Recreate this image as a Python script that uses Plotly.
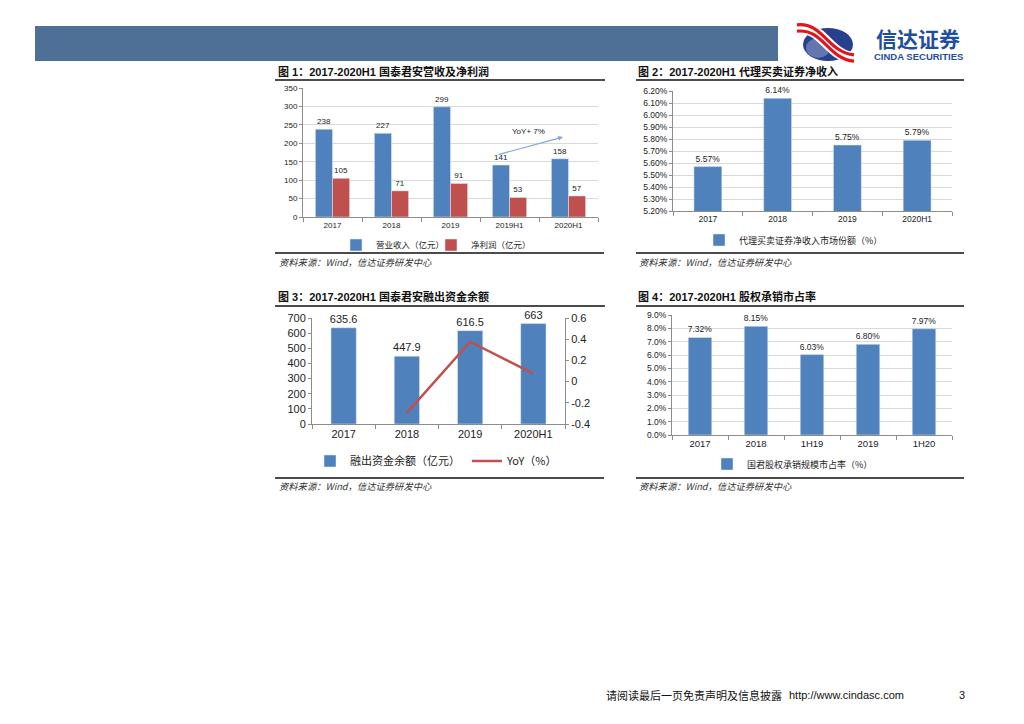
import plotly.graph_objects as go

# ---------------- data ----------------
cat1 = ["2017", "2018", "2019", "2019H1", "2020H1"]
revenue = [238, 227, 299, 141, 158]
net_profit = [105, 71, 91, 53, 57]

cat2 = ["2017", "2018", "2019", "2020H1"]
brokerage_share = [0.0557, 0.0614, 0.0575, 0.0579]

cat3 = ["2017", "2018", "2019", "2020H1"]
margin_balance = [635.6, 447.9, 616.5, 663]
margin_yoy = [None, -0.295, 0.376, 0.075]
yoy_ticks = [0.6, 0.4, 0.2, 0, -0.2, -0.4]
yoy_ticktext = ["0.6", "0.4", "0.2", "0", "-0.2", "-0.4"]

cat4 = ["2017", "2018", "1H19", "2019", "1H20"]
ecm_share = [0.0732, 0.0815, 0.0603, 0.0680, 0.0797]

# ---------------- helpers ----------------
W, H = 1024, 724
def X(px): return px / W
def Y(py): return 1 - py / H

BLUE = "#4F81BD"
RED = "#C0504D"
FONT = "Liberation Sans, Arial, Noto Sans CJK SC"
CJK = "Noto Sans CJK SC, Liberation Sans"
AX = "#8c8c8c"
GRID = "#d9d9d9"

fig = go.Figure()

# chart 1
fig.add_trace(go.Bar(x=cat1, y=revenue, name="营业收入（亿元）", marker_color=BLUE,
                     width=0.29, offset=-0.29, xaxis="x", yaxis="y",
                     text=revenue, textposition="outside", constraintext="none",
                     textfont=dict(size=8, color="#222"), cliponaxis=False, legend="legend"))
fig.add_trace(go.Bar(x=cat1, y=net_profit, name="净利润（亿元）", marker_color=RED,
                     width=0.29, offset=0, xaxis="x", yaxis="y",
                     text=net_profit, textposition="outside", constraintext="none",
                     textfont=dict(size=8, color="#222"), cliponaxis=False, legend="legend"))
# chart 2
fig.add_trace(go.Bar(x=cat2, y=brokerage_share, name="代理买卖证券净收入市场份额（%）",
                     marker_color=BLUE, width=0.4, xaxis="x2", yaxis="y2",
                     texttemplate="%{y:.2%}", textposition="outside", constraintext="none",
                     textfont=dict(size=8.5, color="#222"), cliponaxis=False, legend="legend2"))
# chart 3
fig.add_trace(go.Bar(x=cat3, y=margin_balance, name="融出资金余额（亿元）",
                     marker_color=BLUE, width=0.4, xaxis="x3", yaxis="y3",
                     text=margin_balance, textposition="outside", constraintext="none",
                     textfont=dict(size=11, color="#222"), cliponaxis=False, legend="legend3"))
fig.add_trace(go.Scatter(x=cat3, y=margin_yoy, name="YoY（%）", mode="lines",
                         line=dict(color=RED, width=2.5), xaxis="x3", yaxis="y5",
                         legend="legend3"))
# chart 4
fig.add_trace(go.Bar(x=cat4, y=ecm_share, name="国君股权承销规模市占率（%）",
                     marker_color=BLUE, width=0.42, xaxis="x4", yaxis="y4",
                     texttemplate="%{y:.2%}", textposition="outside", constraintext="none",
                     textfont=dict(size=8.5, color="#222"), cliponaxis=False, legend="legend4"))

def xax(dom, anchor, size):
    return dict(domain=dom, anchor=anchor, type="category", showline=True, linecolor=AX,
                ticks="outside", tickson="boundaries", ticklen=4, tickcolor=AX,
                tickfont=dict(size=size, color="#222", family=FONT), showgrid=False,
                zeroline=False, fixedrange=True, automargin=False)

def yax(dom, anchor, size, **kw):
    d = dict(domain=dom, anchor=anchor, showline=True, linecolor=AX, ticks="outside",
             ticklen=3, tickcolor=AX, tickfont=dict(size=size, color="#222", family=FONT),
             zeroline=False, gridcolor=GRID, gridwidth=1, automargin=False)
    d.update(kw)
    return d

def leg(x, y, size, **kw):
    d = dict(x=X(x), y=Y(y), xanchor="left", yanchor="middle", orientation="h",
             font=dict(size=size, family=CJK, color="#222"), itemwidth=30,
             bgcolor="rgba(0,0,0,0)")
    d.update(kw)
    return d

fig.update_layout(
    width=W, height=H, autosize=False, margin=dict(l=0, r=0, t=0, b=0, pad=0),
    paper_bgcolor="white", plot_bgcolor="rgba(0,0,0,0)",
    barmode="overlay", font=dict(family=FONT, size=9, color="#222"),
    xaxis=xax([X(303), X(598)], "y", 8),
    yaxis=yax([Y(217), Y(88)], "x", 8, range=[0, 350], dtick=50, showgrid=True),
    xaxis2=xax([X(673), X(952)], "y2", 8.5),
    yaxis2=yax([Y(211), Y(91)], "x2", 8.5, range=[0.052, 0.062], dtick=0.001,
               tickformat=".2%", showgrid=True),
    xaxis3=xax([X(312), X(565)], "y3", 11),
    yaxis3=yax([Y(424), Y(318)], "x3", 11, range=[0, 700], dtick=100, showgrid=False),
    yaxis5=yax([Y(424), Y(318)], "x3", 11, range=[-0.4, 0.6], tickvals=yoy_ticks,
               ticktext=yoy_ticktext, showgrid=False, overlaying="y3", side="right"),
    xaxis4=xax([X(672), X(952)], "y4", 9.5),
    yaxis4=yax([Y(435), Y(315)], "x4", 8.5, range=[0, 0.09], dtick=0.01,
               tickformat=".1%", showgrid=True),
    legend=leg(336, 245, 8.5, entrywidth=50),
    legend2=leg(699, 240, 9),
    legend3=leg(310, 461, 11, entrywidth=112),
    legend4=leg(707, 464, 9),
)

shapes = []
# header bar
shapes.append(dict(type="rect", xref="paper", yref="paper", x0=X(35), x1=X(778),
                   y0=Y(61), y1=Y(26), fillcolor="#4E6F96", line=dict(width=0), layer="below"))
# title underlines / source overlines
for (x0, x1, yy) in [(275, 605, 80), (636, 964, 80), (275, 604, 253), (636, 964, 253),
                     (275, 605, 306), (636, 964, 306), (275, 604, 478), (636, 964, 478)]:
    shapes.append(dict(type="line", xref="paper", yref="paper", x0=X(x0), x1=X(x1),
                       y0=Y(yy), y1=Y(yy), line=dict(color="#111", width=1.5)))
# logo
shapes.append(dict(type="circle", xref="paper", yref="paper", x0=X(803), x1=X(853),
                   y0=Y(61), y1=Y(28), fillcolor="#27418F", line=dict(width=0)))
shapes.append(dict(type="circle", xref="paper", yref="paper", x0=X(806), x1=X(830),
                   y0=Y(58), y1=Y(38), fillcolor="#6475B0", line=dict(width=0)))

def bez(pts):
    (a, b), (c, d), (e, f), (g, h) = pts
    return f"M {X(a)},{Y(b)} C {X(c)},{Y(d)} {X(e)},{Y(f)} {X(g)},{Y(h)}"

for dy, col, w in [(0, "white", 12), (-3.2, "#E3151B", 3.2), (3.2, "#E3151B", 3.2)]:
    shapes.append(dict(type="path", xref="paper", yref="paper",
                       path=bez([(797, 28 + dy), (823, 25 + dy), (828, 56 + dy), (854, 58 + dy)]),
                       line=dict(color=col, width=w)))
fig.update_layout(shapes=shapes)

ann = []
def txt(x, y, s, size, color="#111", bold=False, italic=False, family=CJK, xanchor="left"):
    if bold:
        s = f"<b>{s}</b>"
    if italic:
        s = f"<i>{s}</i>"
    ann.append(dict(x=X(x), y=Y(y), xref="paper", yref="paper", text=s, showarrow=False,
                    xanchor=xanchor, yanchor="middle", font=dict(size=size, color=color, family=family)))

txt(276, 72, "图 1：2017-2020H1 国泰君安营收及净利润", 11, bold=True, family=FONT)
txt(636, 72, "图 2：2017-2020H1 代理买卖证券净收入", 11, bold=True, family=FONT)
txt(276, 297, "图 3：2017-2020H1 国泰君安融出资金余额", 11, bold=True, family=FONT)
txt(636, 297, "图 4：2017-2020H1 股权承销市占率", 11, bold=True, family=FONT)
for (x, y) in [(277, 262), (637, 262), (277, 486), (637, 486)]:
    txt(x, y, "资料来源：Wind，信达证券研发中心", 9.3, color="#333", italic=True)

txt(528, 131, "YoY+ 7%", 8, color="#222", family=FONT, xanchor="center")
ann.append(dict(x=X(563), y=Y(137), xref="paper", yref="paper", ax=-66, ay=18, text="",
                showarrow=True, arrowhead=2, arrowsize=0.8, arrowwidth=1.2,
                arrowcolor="#7EA6D8"))

# logo text
txt(918, 38, "信达证券", 21, color="#1F4E9E", bold=True, xanchor="center")
txt(918, 56, "CINDA SECURITIES", 9.5, color="#1F4E9E", bold=True, family=FONT, xanchor="center")

# footer
txt(604, 695, "请阅读最后一页免责声明及信息披露", 11, color="#111")
txt(787, 695, "http://www.cindasc.com", 11, color="#111", family=FONT)
txt(962, 695, "3", 11, color="#111", family=FONT, xanchor="center")

fig.update_layout(annotations=ann)
fig.write_html("out.html", config={"displayModeBar": False},
               post_script="document.body.style.margin='0px';document.body.style.overflow='hidden';")
